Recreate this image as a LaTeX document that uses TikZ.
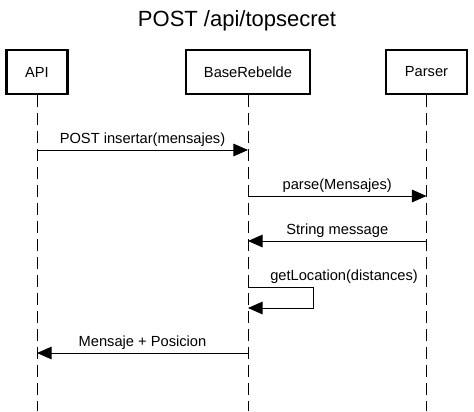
\documentclass[tikz,border=0pt]{standalone}
\usepackage{fontspec}
\setmainfont{Liberation Sans}
\usetikzlibrary{arrows.meta}

\begin{document}
\begin{tikzpicture}[x=0.75pt,y=-0.75pt]

\tikzset{actor/.style = {draw, line width=1.9pt, minimum height=33pt, inner sep=0pt, font=\fontsize{11}{13}\selectfont}}
\tikzset{lifeline/.style = {line width=0.75pt, dash pattern=on 9pt off 4.5pt}}
\tikzset{msg/.style = {-{Triangle[length=11pt,width=9.5pt]}, line width=0.75pt}}
\tikzset{msglabel/.style = {anchor=base, inner sep=0pt, font=\fontsize{11}{13}\selectfont}}

\useasboundingbox (0,0) rectangle (474,411);

%title
\node[anchor=base, font=\fontsize{16.5}{20}\selectfont] (title) at (237,26) {POST /api/topsecret};

%actors
\node[actor, minimum width=45.75pt] (api) at (37,72) {API};
\node[actor, minimum width=93pt] (base) at (248,72) {BaseRebelde};
\node[actor, minimum width=61pt] (parser) at (426.5,72) {Parser};

%lifelines
\coordinate (apiend) at (37,411);
\coordinate (baseend) at (248,411);
\coordinate (parserend) at (426.5,411);
\draw[lifeline] (api.south) -- (apiend);
\draw[lifeline] (base.south) -- (baseend);
\draw[lifeline] (parser.south) -- (parserend);

%messages
\coordinate (a1) at (37,150);
\coordinate (b1) at (248,150);
\coordinate (b2) at (248,196);
\coordinate (p2) at (426.5,196);
\coordinate (p3) at (426.5,241);
\coordinate (b3) at (248,241);
\coordinate (b4) at (248,287);
\coordinate (b5) at (248,308);
\coordinate (b6) at (248,353);
\coordinate (a6) at (37,353);

\draw[msg] (a1) -- node[msglabel, yshift=5.25pt] {POST insertar(mensajes)} (b1);
\draw[msg] (b2) -- node[msglabel, yshift=5.25pt] {parse(Mensajes)} (p2);
\draw[msg] (p3) -- node[msglabel, yshift=5.25pt] {String message} (b3);
\draw[msg] (b4) -- ++(65,0) -- ++(0,21) -- (b5);
\node[msglabel, anchor=base west] (loop) at (270,280) {getLocation(distances)};
\draw[msg] (b6) -- node[msglabel, yshift=5.25pt] {Mensaje + Posicion} (a6);

\end{tikzpicture}
\end{document}
